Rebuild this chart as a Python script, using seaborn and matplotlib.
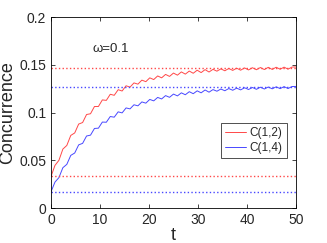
import numpy as np
import pandas as pd
import matplotlib
matplotlib.use("Agg")
import matplotlib.pyplot as plt
import seaborn as sns

# time grid (63 samples over 0..50)
t = np.linspace(0, 50, 63)

c12 = [0.0330, 0.0446, 0.0499, 0.0617, 0.0655, 0.0760, 0.0786, 0.0879, 0.0895, 0.0979,
       0.0987, 0.1063, 0.1063, 0.1132, 0.1127, 0.1191, 0.1180, 0.1239, 0.1225, 0.1280,
       0.1266, 0.1310, 0.1297, 0.1339, 0.1323, 0.1363, 0.1345, 0.1383, 0.1363, 0.1399,
       0.1378, 0.1413, 0.1391, 0.1425, 0.1402, 0.1434, 0.1411, 0.1443, 0.1418, 0.1449,
       0.1424, 0.1452, 0.1433, 0.1457, 0.1437, 0.1461, 0.1441, 0.1464, 0.1443, 0.1467,
       0.1446, 0.1469, 0.1448, 0.1471, 0.1450, 0.1473, 0.1451, 0.1474, 0.1453, 0.1475,
       0.1454, 0.1476, 0.1477]

c14 = [0.0170, 0.0271, 0.0318, 0.0422, 0.0457, 0.0551, 0.0576, 0.0661, 0.0677, 0.0754,
       0.0763, 0.0833, 0.0836, 0.0900, 0.0898, 0.0958, 0.0951, 0.1007, 0.0996, 0.1048,
       0.1038, 0.1081, 0.1070, 0.1111, 0.1098, 0.1137, 0.1122, 0.1158, 0.1142, 0.1177,
       0.1159, 0.1193, 0.1174, 0.1206, 0.1186, 0.1218, 0.1197, 0.1227, 0.1206, 0.1236,
       0.1213, 0.1240, 0.1223, 0.1246, 0.1228, 0.1251, 0.1233, 0.1255, 0.1237, 0.1259,
       0.1241, 0.1262, 0.1243, 0.1265, 0.1246, 0.1267, 0.1248, 0.1269, 0.1250, 0.1271,
       0.1251, 0.1272, 0.1273]

# dotted reference levels
red_levels = [0.033, 0.1465]
blue_levels = [0.017, 0.127]

red = "#ff4848"
blue = "#4848ff"

sns.set_style("ticks")
plt.rcParams['font.family'] = ['Liberation Sans', 'DejaVu Sans']

df = pd.DataFrame({"t": np.concatenate([t, t]),
                   "C": c12 + c14,
                   "pair": ["C(1,2)"] * len(t) + ["C(1,4)"] * len(t)})

fig = plt.figure(figsize=(3.27, 2.43), dpi=100)
ax = fig.add_axes([0.156, 0.144, 0.749, 0.786])

sns.lineplot(data=df, x="t", y="C", hue="pair", palette=[red, blue],
             linewidth=0.7, ax=ax)

for lv in red_levels:
    ax.axhline(lv, color=red, linestyle=":", linewidth=1.0)
for lv in blue_levels:
    ax.axhline(lv, color=blue, linestyle=":", linewidth=1.0)

ax.set_xlim(0, 50)
ax.set_ylim(0, 0.2)
ax.set_xticks([0, 10, 20, 30, 40, 50])
ax.set_yticks([0, 0.05, 0.1, 0.15, 0.2])
ax.set_yticklabels(["0", "0.05", "0.1", "0.15", "0.2"])
ax.tick_params(direction="in", top=True, right=True, labelsize=10, length=3, width=0.6)
for s in ax.spines.values():
    s.set_linewidth(0.6)
    s.set_color("black")

ax.set_xlabel("t", fontsize=13, labelpad=0)
ax.set_ylabel("Concurrence", fontsize=13, labelpad=2)

ax.text(8.4, 0.1665, "ω=0.1", fontsize=9.5, va="center")

leg = ax.legend(loc="upper right", bbox_to_anchor=(0.963, 0.445), fontsize=8.5,
                frameon=True, fancybox=False, borderpad=0.35, handlelength=1.8,
                labelspacing=0.25, handletextpad=0.3, borderaxespad=0)
leg.get_frame().set_edgecolor("black")
leg.get_frame().set_linewidth(0.6)
leg.set_title(None)

fig.savefig("out.png", dpi=100)
